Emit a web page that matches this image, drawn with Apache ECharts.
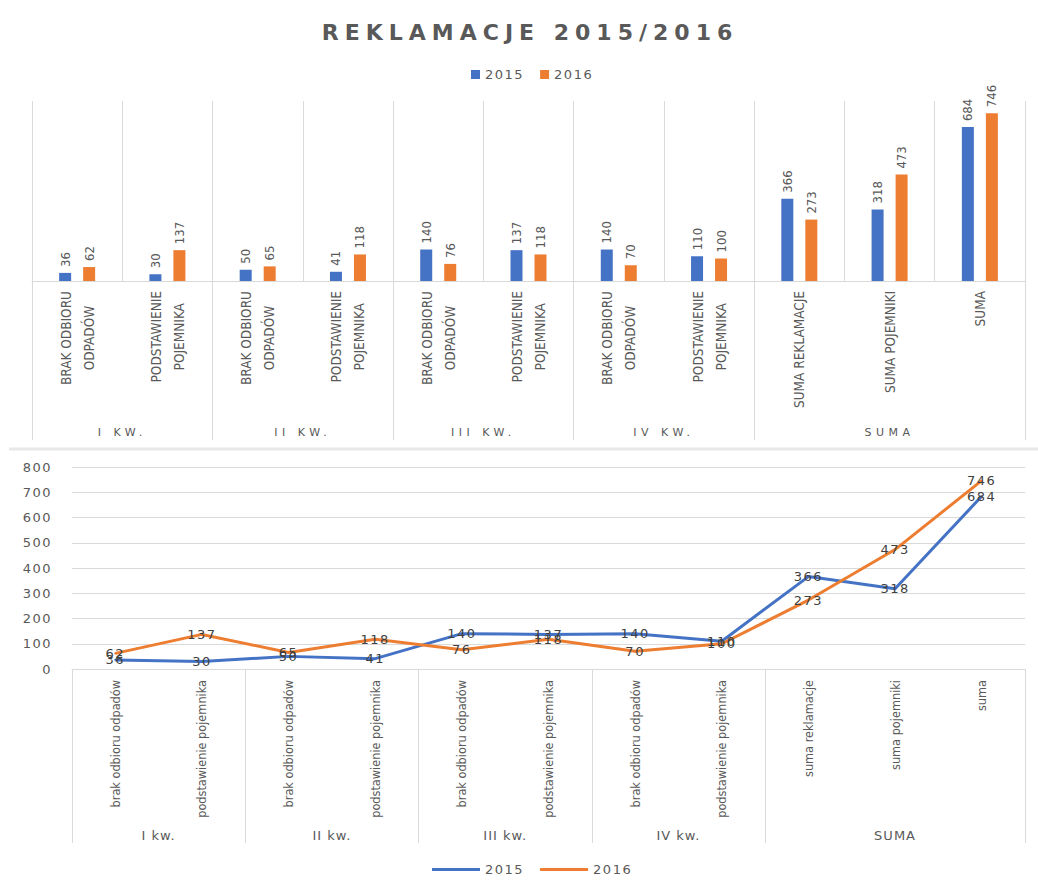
<!DOCTYPE html>
<html>
<head>
<meta charset="utf-8">
<script src="https://cdn.jsdelivr.net/npm/echarts@6/dist/echarts.min.js"></script>
<style>
html,body{margin:0;padding:0;background:#fff;}
#c{width:1038px;height:880px;}
#c text[style*="spT"]{letter-spacing:6px;}
#c text[style*="spG"]{letter-spacing:4.5px;}
#c text[style*="spN"]{letter-spacing:1.5px;}
#c text[style*="spL"]{letter-spacing:1px;}
</style>
</head>
<body>
<div id="c"></div>
<script>
// ---- data ----
const categories = ['brak odbioru odpadów', 'podstawienie pojemnika', 'brak odbioru odpadów', 'podstawienie pojemnika',
  'brak odbioru odpadów', 'podstawienie pojemnika', 'brak odbioru odpadów', 'podstawienie pojemnika',
  'suma reklamacje', 'suma pojemniki', 'suma'];
const topLabels = ['BRAK ODBIORU\nODPADÓW', 'PODSTAWIENIE\nPOJEMNIKA', 'BRAK ODBIORU\nODPADÓW', 'PODSTAWIENIE\nPOJEMNIKA',
  'BRAK ODBIORU\nODPADÓW', 'PODSTAWIENIE\nPOJEMNIKA', 'BRAK ODBIORU\nODPADÓW', 'PODSTAWIENIE\nPOJEMNIKA',
  'SUMA REKLAMACJE', 'SUMA POJEMNIKI', 'SUMA'];
const groups = ['I kw.', 'II kw.', 'III kw.', 'IV kw.', 'SUMA'];
const groupSizes = [2, 2, 2, 2, 3];
const series2015 = [36, 30, 50, 41, 140, 137, 140, 110, 366, 318, 684];
const series2016 = [62, 137, 65, 118, 76, 118, 70, 100, 273, 473, 746];
const yTicks = { min: 0, max: 800, interval: 100 };
const title = 'REKLAMACJE 2015/2016';
const seriesNames = ['2015', '2016'];

// ---- helpers ----
const BLUE = '#4472C4', ORANGE = '#ED7D31', GRAY = '#595959', DARK = '#404040', LINE = '#d9d9d9';
const FT = 'DejaVu Sans, spT';
const FG = 'DejaVu Sans, spG';
const FC = 'DejaVu Sans Condensed';
const FN = 'DejaVu Sans, spN';
const FL = 'DejaVu Sans, spL';
const FB = 'DejaVu Sans Condensed';

// half-slot axis: 2 slots per category, labels at group centres, ticks at group boundaries
function buildSlots(upper) {
  const total = groupSizes.reduce((a, b) => a + b, 0) * 2;
  const slots = new Array(total + 1).fill('');
  const bounds = new Set([0]);
  let s = 0;
  groups.forEach((g, i) => {
    slots[2 * s + groupSizes[i]] = upper ? g.toUpperCase() : g;
    s += groupSizes[i];
    bounds.add(2 * s);
  });
  return { slots, bounds };
}
const topSlots = buildSlots(true);
const botSlots = buildSlots(false);

const chart = echarts.init(document.getElementById('c'), null, { renderer: 'svg' });
chart.setOption({
  animation: false,
  backgroundColor: '#fff',
  title: {
    text: title, left: 525, top: 16, textAlign: 'center',
    textStyle: { fontSize: 22, fontWeight: 'bold', color: GRAY, fontFamily: FT }
  },
  graphic: [
    { type: 'line', silent: true, shape: { x1: 9, y1: 449, x2: 1038, y2: 449 },
      style: { stroke: '#e8e8e8', lineWidth: 3 } }
  ],
  legend: [
    { data: seriesNames, top: 63, left: 466, icon: 'rect', itemWidth: 9, itemHeight: 9, itemGap: 22,
      selectedMode: false, textStyle: { color: GRAY, fontFamily: FN, fontSize: 13 } },
    { data: seriesNames, top: 858, left: 427, icon: 'rect', itemWidth: 48, itemHeight: 3, itemGap: 22,
      selectedMode: false, textStyle: { color: GRAY, fontFamily: FN, fontSize: 13 } }
  ],
  grid: [
    { left: 32, right: 13, top: 101, height: 180 },
    { left: 72, right: 13, top: 467, height: 202 }
  ],
  xAxis: [
    {
      type: 'category', gridIndex: 0, data: topLabels, boundaryGap: true,
      axisLine: { lineStyle: { color: LINE } }, axisTick: { show: false },
      splitLine: { show: true, lineStyle: { color: LINE } },
      axisLabel: {
        interval: 0, rotate: 90, margin: 10, color: GRAY, fontFamily: FC, fontSize: 13.5,
        formatter: v => v.split('\n').map(s => '{c|' + s + '}').join('\n'),
        rich: { c: { align: 'center', fontFamily: FC, fontSize: 13.5, color: GRAY, lineHeight: 23 } }
      }
    },
    {
      type: 'category', gridIndex: 0, data: topSlots.slots, boundaryGap: false, position: 'bottom',
      axisLine: { show: false }, splitLine: { show: false },
      axisTick: { show: true, interval: (i) => topSlots.bounds.has(i), length: 159, lineStyle: { color: LINE } },
      axisLabel: { interval: (i, v) => v !== '', margin: 146, color: GRAY, fontFamily: FG, fontSize: 11 }
    },
    {
      type: 'category', gridIndex: 1, data: categories, boundaryGap: true,
      axisLine: { lineStyle: { color: LINE } }, axisTick: { show: false }, splitLine: { show: false },
      axisLabel: { interval: 0, rotate: 90, margin: 11, color: GRAY, fontFamily: FB, fontSize: 12.6 }
    },
    {
      type: 'category', gridIndex: 1, data: botSlots.slots, boundaryGap: false, position: 'bottom',
      axisLine: { show: false }, splitLine: { show: false },
      axisTick: { show: true, interval: (i) => botSlots.bounds.has(i), length: 174, lineStyle: { color: LINE } },
      axisLabel: { interval: (i, v) => v !== '', margin: 160, color: GRAY, fontFamily: FL, fontSize: 13 }
    }
  ],
  yAxis: [
    { type: 'value', gridIndex: 0, min: yTicks.min, max: yTicks.max, show: false },
    {
      type: 'value', gridIndex: 1, min: yTicks.min, max: yTicks.max, interval: yTicks.interval,
      axisLine: { show: false }, axisTick: { show: false },
      splitLine: { lineStyle: { color: LINE } },
      axisLabel: { color: GRAY, fontFamily: FN, fontSize: 13, margin: 20 }
    }
  ],
  series: [
    {
      name: seriesNames[0], type: 'bar', xAxisIndex: 0, yAxisIndex: 0, data: series2015,
      barWidth: 12, barGap: '100%', itemStyle: { color: BLUE },
      label: { show: true, position: 'top', rotate: 90, align: 'left', verticalAlign: 'middle', distance: 6,
        color: GRAY, fontFamily: FB, fontSize: 13 }
    },
    {
      name: seriesNames[1], type: 'bar', xAxisIndex: 0, yAxisIndex: 0, data: series2016,
      barWidth: 12, barGap: '100%', itemStyle: { color: ORANGE },
      label: { show: true, position: 'top', rotate: 90, align: 'left', verticalAlign: 'middle', distance: 6,
        color: GRAY, fontFamily: FB, fontSize: 13 }
    },
    {
      name: seriesNames[0], type: 'line', xAxisIndex: 2, yAxisIndex: 1, data: series2015,
      symbol: 'circle', symbolSize: 2, itemStyle: { color: BLUE }, lineStyle: { color: BLUE, width: 3 },
      label: { show: true, position: 'inside', color: DARK, fontFamily: FN, fontSize: 13 }
    },
    {
      name: seriesNames[1], type: 'line', xAxisIndex: 2, yAxisIndex: 1, data: series2016,
      symbol: 'circle', symbolSize: 2, itemStyle: { color: ORANGE }, lineStyle: { color: ORANGE, width: 3 },
      label: { show: true, position: 'inside', color: DARK, fontFamily: FN, fontSize: 13 }
    }
  ]
});
</script>
</body>
</html>
